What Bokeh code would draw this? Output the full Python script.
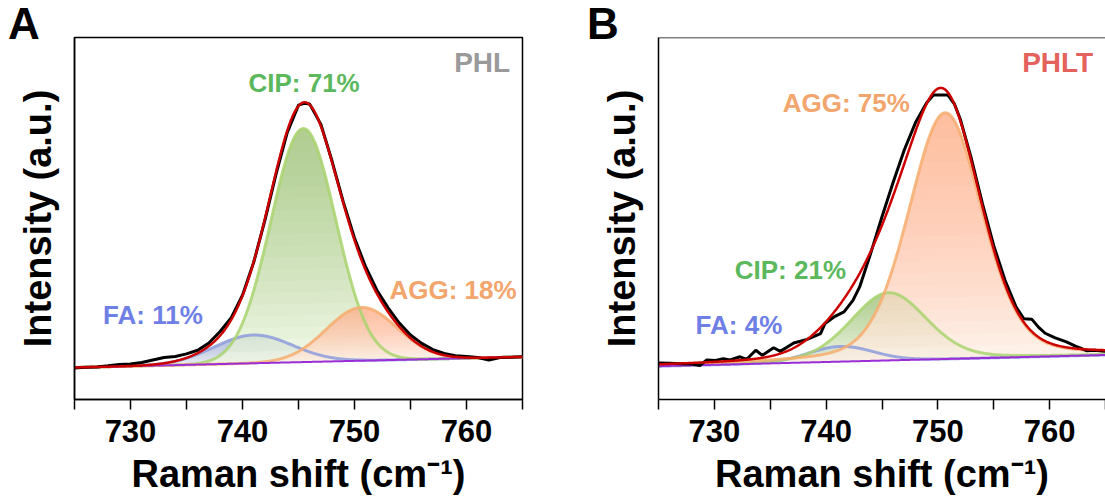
import numpy as np
from bokeh.plotting import figure
from bokeh.models import Range1d, FixedTicker, Label, Span, Div
from bokeh.layouts import row, column
from bokeh.embed import file_html
from bokeh.resources import INLINE

# ---------------- data ----------------
X_RANGE = (725, 765)
Y_RANGE = (0, 100)
x_major_ticks = [730, 740, 750, 760]
x_minor_ticks = [725, 735, 745, 755, 765]
x_label = "Raman shift (cm\u207b\u00b9)"
y_label = "Intensity (a.u.)"

components = ["FA", "CIP", "AGG"]

# Panel A: PHL
a_title = "PHL"
a_percent = [11, 71, 18]
a_raw_x = [725, 726, 727, 728, 729, 730, 731, 732, 733, 734, 735, 736, 737, 738,
           739, 740, 741, 742, 743, 744, 745, 745.5, 746, 747, 748, 749, 750, 751,
           752, 753, 754, 755, 756, 757, 758, 759, 760, 761, 762, 763, 764, 765]
a_raw_y = [8.7, 8.9, 9.0, 9.3, 9.7, 9.8, 10.2, 10.9, 11.6, 11.9, 12.6, 13.6, 15.6, 18.8,
           22.6, 28.8, 37.9, 49.5, 62.3, 73.8, 81.3, 81.8, 81.6, 76.0, 65.8, 54.6, 44.6, 36.6,
           30.2, 25.3, 21.1, 17.8, 15.5, 13.8, 12.7, 12.1, 11.9, 11.6, 10.9, 11.6, 11.7, 11.8]
a_baseline = [8.84, 11.77]          # at 725 and 765
a_center = [740.96, 745.43, 750.64]
a_height = [7.8, 64.5, 14.7]
a_sigma = [3.5, 2.9, 3.16]
a_eta = [0.0, 0.0, 0.0]

# Panel B: PHLT
b_title = "PHLT"
b_percent = [4, 21, 75]
b_raw_x = [725, 726, 727, 728, 728.7, 729.3, 730.1, 730.8, 731.4, 732.3, 732.9, 733.7,
           734.3, 735.3, 735.9, 737.1, 738.3, 739.5, 739.9, 740.7, 741.6, 742.4, 743.0,
           744, 745, 746, 747, 748, 749, 749.6, 750.9, 751.5, 752, 753, 754, 755, 756,
           757, 757.7, 758.4, 759, 759.6, 760.5, 761.5, 762.5, 763.3, 764, 765]
b_raw_y = [10.1, 10.0, 9.9, 9.8, 9.4, 10.9, 10.8, 11.3, 10.9, 11.8, 11.1, 13.6,
           12.2, 14.3, 13.3, 15.6, 16.6, 18.2, 21.0, 22.8, 24.2, 27.4, 31.1,
           40.5, 50.5, 60.0, 69.0, 76.5, 82.0, 84.1, 84.1, 81.5, 77.5, 66.5, 54.0, 42.5, 33.0,
           25.5, 22.3, 22.2, 20.0, 18.3, 17.0, 15.9, 14.5, 13.5, 13.6, 13.3]
b_baseline = [9.2, 12.3]
b_center = [741.3, 745.6, 750.66]
b_height = [4.2, 18.7, 68.0]
b_sigma = [2.9, 3.4, 3.3]
b_eta = [0.0, 0.2, 0.25]

# ---------------- styling ----------------
FONT = "Liberation Sans"
comp_line = ["#8d9cdc", "#a9d46f", "#f7ad70"]
comp_top = ["#8f9cc8", "#86bb5e", "#f6aa78"]
comp_bottom = ["#e3e7f0", "#ecf6df", "#fdece0"]
comp_text = ["#6e80e6", "#5cb85c", "#f2a56c"]
PX_PER_Y = 3.62   # frame pixels per y unit (362 px / 100)


def pseudo_voigt(x, c, h, s, eta):
    g = np.exp(-(x - c) ** 2 / (2 * s * s))
    gam = s * np.sqrt(2 * np.log(2))
    lor = 1.0 / (1.0 + ((x - c) / gam) ** 2)
    return h * ((1 - eta) * g + eta * lor)


def add_text(p, x, y, text, size, color, align):
    # the svg text is set with a middle-like baseline; lift by ~1/3 em
    dy = 0.33 * size / PX_PER_Y
    p.add_layout(Label(x=x, y=y + dy, text=text, text_font=FONT,
                       text_font_style="bold", text_font_size=f"{size}px",
                       text_color=color, text_align=align,
                       text_baseline="alphabetic"))


def make_panel(raw_x, raw_y, baseline, center, height, sigma, eta, percent,
               title, title_color, label_pos, frame_w, border_l, border_r,
               outline=True):
    p = figure(frame_width=frame_w, frame_height=362,
               x_range=Range1d(*X_RANGE), y_range=Range1d(*Y_RANGE),
               output_backend="svg", toolbar_location=None,
               min_border_left=border_l, min_border_right=border_r,
               min_border_top=37, min_border_bottom=98, margin=0)
    p.xgrid.visible = False
    p.ygrid.visible = False
    p.background_fill_color = "white"
    p.border_fill_color = "white"
    if outline:
        p.outline_line_color = "black"
        p.outline_line_width = 1.5
    else:
        p.outline_line_color = None
        p.add_layout(Span(location=Y_RANGE[1], dimension="width",
                          line_color="black", line_width=1.5))

    xs = np.linspace(X_RANGE[0], X_RANGE[1], 801)
    base = baseline[0] + (baseline[1] - baseline[0]) * (xs - X_RANGE[0]) / (X_RANGE[1] - X_RANGE[0])
    total = base.copy()
    nlev = 20
    for i in range(len(center)):
        g = pseudo_voigt(xs, center[i], height[i], sigma[i], eta[i])
        total = total + g
        p.varea(x=xs, y1=base, y2=base + g, fill_color=comp_bottom[i], fill_alpha=0.75)
        for k in range(1, nlev):
            lev = height[i] * k / nlev
            p.varea(x=xs, y1=base + np.minimum(g, lev), y2=base + g,
                    fill_color=comp_top[i], fill_alpha=0.042)
    for i in range(len(center)):
        g = pseudo_voigt(xs, center[i], height[i], sigma[i], eta[i])
        p.line(xs, base + g, line_color=comp_line[i], line_width=3, line_alpha=0.85)
    p.line(xs, base, line_color="#9a2fd8", line_width=2)
    p.line(raw_x, raw_y, line_color="black", line_width=3)
    p.line(xs, total, line_color="#cc0000", line_width=2.5)

    # axes
    xa = p.xaxis[0]
    xa.ticker = FixedTicker(ticks=x_major_ticks, minor_ticks=x_minor_ticks)
    xa.major_tick_in = 0
    xa.major_tick_out = 10
    xa.minor_tick_in = 0
    xa.minor_tick_out = 10
    xa.major_tick_line_width = 1.5
    xa.minor_tick_line_width = 1.5
    xa.minor_tick_line_color = "black"
    xa.axis_line_width = 1.5
    xa.major_label_text_font = FONT
    xa.major_label_text_font_style = "bold"
    xa.major_label_text_font_size = "31px"
    xa.major_label_text_color = "black"
    xa.major_label_standoff = 10
    xa.axis_label = x_label
    xa.axis_label_text_font = FONT
    xa.axis_label_text_font_style = "bold"
    xa.axis_label_text_font_size = "38px"
    xa.axis_label_text_color = "black"
    xa.axis_label_standoff = 8

    ya = p.yaxis[0]
    ya.ticker = FixedTicker(ticks=[])
    ya.major_tick_line_color = None
    ya.minor_tick_line_color = None
    ya.axis_line_width = 1.5
    ya.axis_label = y_label
    ya.axis_label_text_font = FONT
    ya.axis_label_text_font_style = "bold"
    ya.axis_label_text_font_size = "38px"
    ya.axis_label_text_color = "black"
    ya.axis_label_standoff = 16

    # texts
    for i, name in enumerate(components):
        lx, ly = label_pos[i]
        add_text(p, lx, ly, f"{name}: {percent[i]}%", 26, comp_text[i], "center")
    add_text(p, 763.9, 90.6, title, 28, title_color, "right")
    return p


def letter_div(letter, width, pad_left):
    html = (f'<div style="font-family:\'Liberation Sans\',Arial,sans-serif;font-weight:bold;'
            f'font-size:44px;line-height:44px;padding-left:{pad_left}px;padding-top:2px;'
            f'margin:0;color:#000;white-space:nowrap;">{letter}</div>')
    return Div(text=html, width=width, height=0, margin=0,
               styles={"overflow": "visible", "z-index": "10", "position": "relative",
                       "margin": "0", "padding": "0"})


pA = make_panel(a_raw_x, a_raw_y, a_baseline, a_center, a_height, a_sigma, a_eta,
                a_percent, a_title, "#9a9a9a",
                [(732.0, 21.1), (745.5, 85.0), (758.8, 28.0)],
                448, 74, 18, outline=True)
pB = make_panel(b_raw_x, b_raw_y, b_baseline, b_center, b_height, b_sigma, b_eta,
                b_percent, b_title, "#e3625c",
                [(732.2, 18.3), (736.8, 33.3), (741.8, 79.6)],
                447, 118, 0, outline=False)

layout = row(column(letter_div("A", 540, 8), pA, spacing=0, margin=0),
             column(letter_div("B", 565, 47), pB, spacing=0, margin=0),
             spacing=0, margin=0)
html = file_html(layout, INLINE)
html = html.replace("<body>", '<body style="margin:0;overflow:hidden">', 1)
open("out.html", "w").write(html)
